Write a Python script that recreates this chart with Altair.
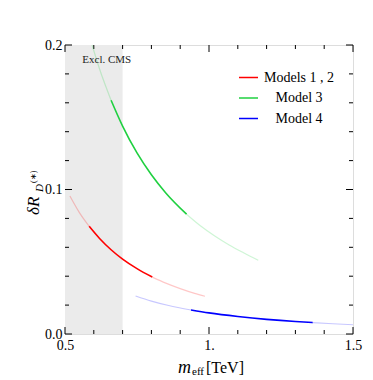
import altair as alt
import pandas as pd

# ---------------- data ----------------
models = ["Models 1 , 2", "Model 3", "Model 4"]
colors = ["#ff0000", "#1fd040", "#0000ff"]

red_m = [0.517, 0.55, 0.584, 0.62, 0.66, 0.70, 0.75, 0.803, 0.85, 0.90, 0.95, 0.986]
red_y = [0.0955, 0.0840, 0.0745, 0.0661, 0.0583, 0.0518, 0.0452, 0.0394, 0.0352, 0.0314, 0.0281, 0.0261]

green_m = [0.594, 0.62, 0.66, 0.70, 0.75, 0.80, 0.85, 0.922, 0.97, 1.02, 1.07, 1.12, 1.171]
green_y = [0.200, 0.1834, 0.1618, 0.1439, 0.1253, 0.1102, 0.0976, 0.0829, 0.0749, 0.0678, 0.0616, 0.0562, 0.0510]

blue_m = [0.745, 0.80, 0.86, 0.9375, 1.0, 1.1, 1.2, 1.3, 1.36, 1.43, 1.5]
blue_y = [0.0263, 0.0228, 0.0197, 0.0166, 0.0146, 0.0121, 0.0101, 0.0086, 0.0079, 0.0071, 0.0064]

dark_from = [0.584, 0.66, 0.9375]
dark_to = [0.803, 0.922, 1.36]

excl_from = [0.5]
excl_to = [0.7]

x_major = [0.5, 1.0, 1.5]
x_minor = [0.6, 0.7, 0.8, 0.9, 1.1, 1.2, 1.3, 1.4]
y_major = [0.0, 0.1, 0.2]
y_minor = [0.02, 0.04, 0.06, 0.08, 0.12, 0.14, 0.16, 0.18]

# ---------------- build table ----------------
rows = []
for name, ms, ys, a, b in zip(models, [red_m, green_m, blue_m], [red_y, green_y, blue_y], dark_from, dark_to):
    for m, y in zip(ms, ys):
        if m <= a:
            rows.append({"model": name, "seg": name + "_lo", "shade": "light", "m": m, "y": y})
        if a <= m <= b:
            rows.append({"model": name, "seg": name + "_mid", "shade": "dark", "m": m, "y": y})
        if m >= b:
            rows.append({"model": name, "seg": name + "_hi", "shade": "light", "m": m, "y": y})
df = pd.DataFrame(rows)

W, H = 288, 289
FONT = "Liberation Serif"

xs = alt.Scale(domain=[0.5, 1.5], nice=False, zero=False)
ys_ = alt.Scale(domain=[0.0, 0.2], nice=False, zero=False)
xaxis = alt.Axis(values=x_major, ticks=False, domain=False, grid=False, title=None,
                 labelExpr="datum.value == 1 ? '1.' : format(datum.value, '.1f')",
                 labelFont=FONT, labelFontSize=14, labelColor="black", labelPadding=4,
                 labelFlush=False)
yaxis = alt.Axis(values=y_major, ticks=False, domain=False, grid=False, title=None,
                 labelExpr="format(datum.value, '.1f')",
                 labelFont=FONT, labelFontSize=14, labelColor="black", labelPadding=3,
                 labelFlush=False)

X = alt.X("m:Q", scale=xs, axis=xaxis)
Y = alt.Y("y:Q", scale=ys_, axis=yaxis)

# shaded exclusion
shade = alt.Chart(pd.DataFrame({"m": excl_from, "m2": excl_to})).mark_rect(color="#ebebeb").encode(
    x=X, x2="m2:Q", y=alt.value(0), y2=alt.value(H)
)

excl_txt = alt.Chart(pd.DataFrame({"m": [0.56], "y": [0.1896], "t": ["Excl. CMS"]})).mark_text(
    font=FONT, fontSize=11, align="left", baseline="middle", color="#222222"
).encode(x=X, y=Y, text="t:N")

lines = alt.Chart(df).mark_line(interpolate="monotone").encode(
    x=X, y=Y,
    color=alt.Color("model:N", scale=alt.Scale(domain=models, range=colors),
                    legend=alt.Legend(title=None, orient="none", legendX=173, legendY=22,
                                      symbolType="stroke", symbolSize=361, symbolStrokeWidth=1.5,
                                      symbolOpacity=1,
                                      labelFont=FONT, labelFontSize=14, labelColor="black",
                                      labelAlign="center", labelOffset=40, rowPadding=2.5,
                                      padding=0)),
    detail="seg:N",
    order="m:Q",
    opacity=alt.Opacity("shade:N", scale=alt.Scale(domain=["light", "dark"], range=[0.22, 1.0]), legend=None),
    strokeWidth=alt.StrokeWidth("shade:N", scale=alt.Scale(domain=["light", "dark"], range=[1.2, 1.6]), legend=None),
)

# ticks (inward) on all four sides
xmaj = pd.DataFrame({"m": x_major})
xmin = pd.DataFrame({"m": x_minor})
ymaj = pd.DataFrame({"y": y_major})
ymin = pd.DataFrame({"y": y_minor})

def xticks(d, L):
    b = alt.Chart(d).mark_rule(color="black", strokeWidth=1).encode(x=X, y=alt.value(H), y2=alt.value(H - L))
    t = alt.Chart(d).mark_rule(color="black", strokeWidth=1).encode(x=X, y=alt.value(0), y2=alt.value(L))
    return b + t

def yticks(d, L):
    l = alt.Chart(d).mark_rule(color="black", strokeWidth=1).encode(y=Y, x=alt.value(0), x2=alt.value(L))
    r = alt.Chart(d).mark_rule(color="black", strokeWidth=1).encode(y=Y, x=alt.value(W), x2=alt.value(W - L))
    return l + r

ticks = xticks(xmaj, 7) + xticks(xmin, 4) + yticks(ymaj, 7) + yticks(ymin, 4)

def txt(s, x, y, size, style="normal", angle=0):
    return alt.Chart(pd.DataFrame({"t": [s]})).mark_text(
        font=FONT, fontSize=size, fontStyle=style, align="left", baseline="alphabetic",
        angle=angle, color="black"
    ).encode(x=alt.value(x), y=alt.value(y), text="t:N")

xtitle = txt("m", 113, 328, 18, "italic") + txt("eff", 127, 330, 11) + txt("[TeV]", 141, 328, 16)
ytitle = (txt("δR", -26, 170, 17, "italic", 270)
          + txt("D", -22, 147, 11, "italic", 270)
          + txt("(∗)", -29, 138, 8, "normal", 270))

chart = alt.layer(shade, ticks, lines, excl_txt, xtitle, ytitle).properties(
    width=W, height=H,
    autosize=alt.AutoSizeParams(type="none"),
    padding={"left": 57, "top": 37, "right": 12, "bottom": 45},
).configure_view(stroke="black", strokeWidth=1).configure(background="white")

chart.save("out.html", embed_options={"renderer": "svg", "actions": False})
